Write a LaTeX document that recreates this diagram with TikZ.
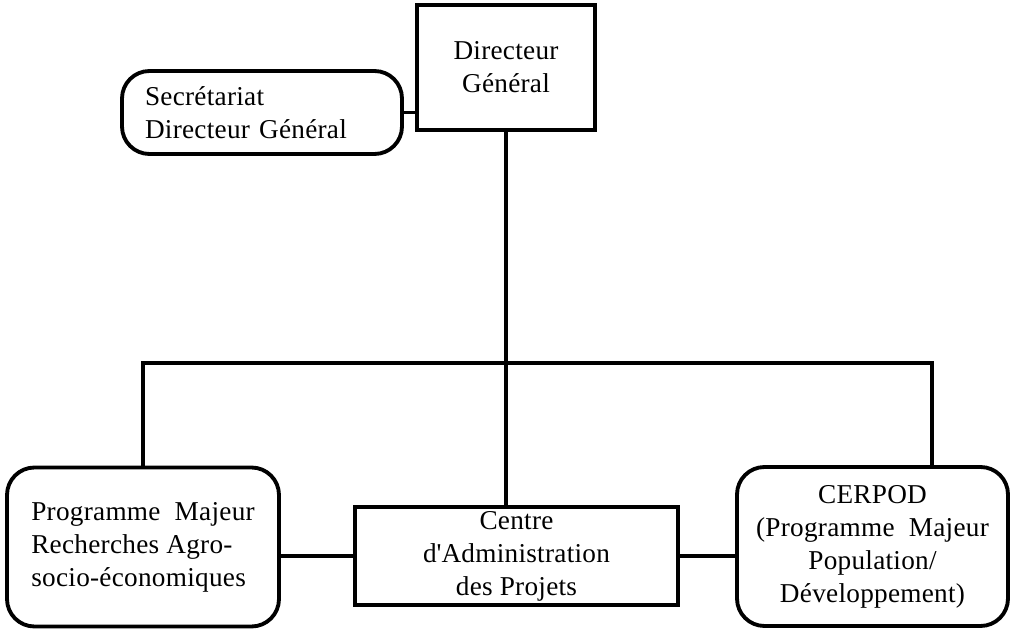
\documentclass[tikz,border=0pt]{standalone}
\usepackage{fontspec}
\setmainfont{Liberation Serif}[LetterSpace=1]
\begin{document}
\begin{tikzpicture}[x=0.02cm,y=-0.02cm,
  every node/.style={font=\fontsize{15.5}{18.8}\selectfont},
  box/.style={draw,line width=2.2pt,inner sep=0pt},
  rbox/.style={box,rounded corners=0.55cm},
  conn/.style={line width=2.2pt}]
\useasboundingbox (0,0) rectangle (1011,631);
\node[box,minimum width=178*0.02cm,minimum height=125*0.02cm,align=center] (dg) at (506,67.5) {Directeur\\Général};
\node[rbox,minimum width=280*0.02cm,minimum height=83*0.02cm,text width=234*0.02cm,align=left] (sec) at (262,112.5) {Secrétariat\\Directeur Général};
\node[rbox,minimum width=272*0.02cm,minimum height=159*0.02cm,align=left] (pm) at (143,547) {Programme\ \ Majeur\\Recherches Agro-\\socio-économiques};
\node[box,minimum width=323*0.02cm,minimum height=98*0.02cm,align=center] (cap) at (516.5,556) {Centre\\d\textquotesingle Administration\\des Projets};
\node[rbox,minimum width=271*0.02cm,minimum height=159*0.02cm,align=center] (cer) at (872.5,546.5) {CERPOD\\(Programme\ \ Majeur\\Population/\\Développement)};
\coordinate (busR) at (932,363);
\draw[conn] (sec.east) -- (sec.east -| dg.west);
\draw[conn] (dg.south) -- (dg.south |- cap.north);
\draw[conn] (pm.north) |- (busR) -- (busR |- cer.north);
\draw[conn] (cap.west) -- (cap.west -| pm.east);
\draw[conn] (cap.east) -- (cap.east -| cer.west);
\end{tikzpicture}
\end{document}
